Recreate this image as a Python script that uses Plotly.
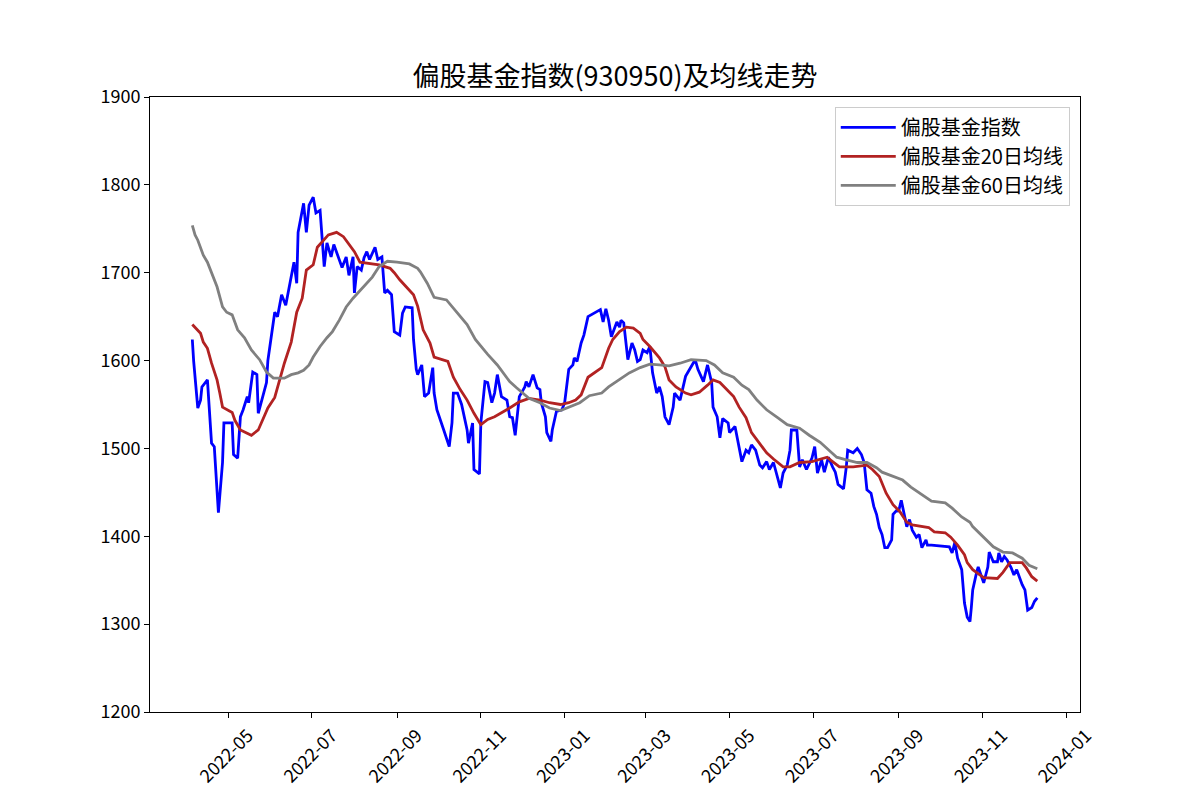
import plotly.graph_objects as go

idx_dates = ["2022-04-05","2022-04-06","2022-04-09","2022-04-11","2022-04-12","2022-04-16","2022-04-19","2022-04-21","2022-04-24","2022-04-27","2022-04-28",
"2022-05-04","2022-05-05","2022-05-08","2022-05-10","2022-05-12","2022-05-15","2022-05-16","2022-05-19","2022-05-22","2022-05-23","2022-05-29","2022-05-30",
"2022-06-04","2022-06-06","2022-06-09","2022-06-12","2022-06-16","2022-06-18","2022-06-20","2022-06-21","2022-06-25","2022-06-27","2022-06-29",
"2022-07-02","2022-07-04","2022-07-07","2022-07-10","2022-07-12","2022-07-15","2022-07-17","2022-07-23","2022-07-26","2022-07-28","2022-07-31",
"2022-08-01","2022-08-03","2022-08-06","2022-08-08","2022-08-10","2022-08-12","2022-08-16","2022-08-18","2022-08-21","2022-08-23","2022-08-25","2022-08-28","2022-08-30",
"2022-09-03","2022-09-05","2022-09-07","2022-09-12","2022-09-13","2022-09-15","2022-09-16","2022-09-19","2022-09-21","2022-09-24","2022-09-27","2022-09-28","2022-09-30",
"2022-10-05","2022-10-09","2022-10-11","2022-10-12","2022-10-15","2022-10-18","2022-10-22","2022-10-23","2022-10-26","2022-10-27","2022-10-31",
"2022-11-01","2022-11-04","2022-11-06","2022-11-09","2022-11-11","2022-11-13","2022-11-16","2022-11-20","2022-11-22","2022-11-24","2022-11-26","2022-11-29",
"2022-12-03","2022-12-04","2022-12-06","2022-12-09","2022-12-12","2022-12-14","2022-12-15","2022-12-18","2022-12-19","2022-12-22","2022-12-23","2022-12-26","2022-12-30",
"2023-01-01","2023-01-03","2023-01-04","2023-01-07","2023-01-08","2023-01-10","2023-01-13","2023-01-15","2023-01-18","2023-01-27","2023-01-29","2023-01-31",
"2023-02-02","2023-02-04","2023-02-08","2023-02-10","2023-02-11","2023-02-13","2023-02-16","2023-02-19","2023-02-21","2023-02-23","2023-02-25","2023-02-27",
"2023-03-02","2023-03-04","2023-03-06","2023-03-09","2023-03-11","2023-03-13","2023-03-15","2023-03-18","2023-03-21","2023-03-22","2023-03-26","2023-03-30",
"2023-04-02","2023-04-06","2023-04-08","2023-04-12","2023-04-15","2023-04-18","2023-04-19","2023-04-22","2023-04-24","2023-04-26","2023-04-30",
"2023-05-01","2023-05-05","2023-05-08","2023-05-10","2023-05-13","2023-05-15","2023-05-17","2023-05-20","2023-05-23","2023-05-25","2023-05-28","2023-05-30",
"2023-06-02","2023-06-05","2023-06-07","2023-06-09","2023-06-12","2023-06-14","2023-06-15","2023-06-19","2023-06-21","2023-06-23","2023-06-26","2023-06-30",
"2023-07-02","2023-07-04","2023-07-07","2023-07-09","2023-07-12","2023-07-15","2023-07-17","2023-07-19","2023-07-23","2023-07-25","2023-07-26","2023-07-30",
"2023-08-02","2023-08-05","2023-08-07","2023-08-09","2023-08-12","2023-08-14","2023-08-16","2023-08-18","2023-08-20","2023-08-22","2023-08-24","2023-08-27","2023-08-28","2023-08-31",
"2023-09-01","2023-09-03","2023-09-05","2023-09-07","2023-09-09","2023-09-11","2023-09-14","2023-09-16","2023-09-18","2023-09-21","2023-09-22","2023-09-25",
"2023-10-08","2023-10-10","2023-10-12","2023-10-14","2023-10-17","2023-10-19","2023-10-21","2023-10-23","2023-10-24","2023-10-25","2023-10-28","2023-10-29","2023-10-31",
"2023-11-02","2023-11-05","2023-11-06","2023-11-09","2023-11-12","2023-11-13","2023-11-15","2023-11-17","2023-11-19","2023-11-22","2023-11-24","2023-11-26","2023-11-28","2023-11-30",
"2023-12-02","2023-12-04","2023-12-07","2023-12-09","2023-12-11"]
idx_values = [1624,1599,1546,1555,1570,1578,1506,1502,1427,1484,1529,
1529,1493,1489,1536,1544,1559,1552,1587,1584,1540,1575,1600,
1655,1650,1675,1663,1695,1712,1688,1746,1779,1746,1777,
1786,1768,1771,1707,1734,1718,1732,1706,1718,1697,1718,
1677,1707,1703,1717,1724,1715,1729,1715,1718,1677,1680,1675,1633,
1629,1654,1661,1660,1624,1590,1584,1595,1559,1563,1592,1563,1544,
1521,1502,1529,1563,1563,1550,1521,1506,1529,1476,1471,
1529,1576,1575,1552,1563,1584,1559,1555,1536,1535,1515,1559,
1570,1576,1570,1584,1569,1567,1552,1536,1518,1508,1521,1542,1544,
1552,1575,1590,1595,1603,1599,1620,1629,1650,1658,1644,1659,
1646,1627,1644,1638,1646,1643,1601,1620,1612,1599,1601,1612,
1609,1616,1586,1563,1570,1559,1536,1527,1547,1563,1555,1582,
1590,1601,1590,1576,1595,1575,1547,1536,1512,1534,1529,
1518,1525,1500,1485,1498,1495,1504,1498,1481,1478,1485,1476,
1484,1468,1455,1472,1481,1498,1521,1521,1479,1487,1476,1489,
1502,1472,1487,1473,1490,1479,1473,1459,1454,1479,1498,1495,
1500,1493,1484,1453,1449,1434,1425,1410,1402,1387,1387,1396,1425,1430,
1428,1441,1425,1411,1419,1407,1399,1402,1387,1396,1390,1390,
1388,1381,1393,1375,1362,1324,1308,1303,1319,1339,1360,1365,1356,
1347,1365,1382,1371,1371,1381,1371,1377,1373,1364,1356,1362,1353,1345,
1339,1316,1319,1326,1330]

ma20_dates = ["2022-04-05","2022-04-11","2022-04-13","2022-04-16","2022-04-19","2022-04-23","2022-04-25","2022-04-27",
"2022-05-04","2022-05-06","2022-05-10","2022-05-18","2022-05-23","2022-05-27","2022-05-30",
"2022-06-04","2022-06-08","2022-06-11","2022-06-16","2022-06-20","2022-06-24","2022-06-27",
"2022-07-02","2022-07-05","2022-07-13","2022-07-19","2022-07-24","2022-07-28",
"2022-08-01","2022-08-05","2022-08-10","2022-08-19","2022-08-27","2022-08-30",
"2022-09-03","2022-09-08","2022-09-13","2022-09-16","2022-09-20","2022-09-25","2022-09-28",
"2022-10-08","2022-10-12","2022-10-17","2022-10-22","2022-10-27",
"2022-11-01","2022-11-06","2022-11-11","2022-11-22","2022-11-29",
"2022-12-06","2022-12-14","2022-12-21","2022-12-29",
"2023-01-04","2023-01-09","2023-01-13","2023-01-18","2023-01-28",
"2023-02-02","2023-02-05","2023-02-10","2023-02-15","2023-02-20","2023-02-25","2023-02-27",
"2023-03-04","2023-03-11","2023-03-15","2023-03-18","2023-03-23","2023-03-30",
"2023-04-03","2023-04-09","2023-04-15","2023-04-19","2023-04-24","2023-04-29",
"2023-05-04","2023-05-08","2023-05-13","2023-05-17","2023-05-23","2023-05-28",
"2023-06-02","2023-06-09","2023-06-14","2023-06-21","2023-06-30",
"2023-07-11","2023-07-15","2023-07-20","2023-07-30",
"2023-08-04","2023-08-09","2023-08-13","2023-08-18","2023-08-23","2023-08-28",
"2023-09-02","2023-09-07","2023-09-11","2023-09-18","2023-09-23","2023-09-27",
"2023-10-05","2023-10-09","2023-10-14","2023-10-19","2023-10-21","2023-10-25",
"2023-11-02","2023-11-12","2023-11-16","2023-11-21","2023-11-30",
"2023-12-03","2023-12-07","2023-12-11"]
ma20_values = [1641,1631,1621,1614,1597,1578,1563,1547,
1541,1532,1521,1515,1521,1536,1546,
1558,1581,1597,1621,1655,1671,1703,
1709,1729,1743,1746,1741,1732,
1724,1712,1711,1709,1705,1700,
1692,1683,1675,1662,1635,1620,1604,
1599,1581,1567,1555,1540,
1527,1533,1536,1546,1553,
1557,1555,1552,1550,
1552,1555,1561,1581,1592,
1614,1624,1633,1638,1637,1631,1624,
1616,1603,1593,1578,1570,1563,
1561,1564,1572,1578,1575,1567,
1559,1547,1535,1518,1506,1495,
1488,1479,1479,1484,1485,
1490,1485,1479,1479,
1480,1481,1476,1468,1449,1436,
1428,1416,1413,1411,1410,1405,
1404,1399,1390,1379,1370,1362,
1353,1352,1359,1370,1370,
1364,1354,1349]

ma60_dates = ["2022-04-05","2022-04-07","2022-04-09","2022-04-13","2022-04-16","2022-04-19","2022-04-23","2022-04-27","2022-04-30",
"2022-05-04","2022-05-08","2022-05-13","2022-05-18","2022-05-24","2022-05-29",
"2022-06-03","2022-06-11","2022-06-16","2022-06-21","2022-06-25","2022-06-29",
"2022-07-02","2022-07-07","2022-07-12","2022-07-16","2022-07-21","2022-07-26","2022-07-31",
"2022-08-05","2022-08-10","2022-08-14","2022-08-19","2022-08-25",
"2022-09-01","2022-09-10","2022-09-16","2022-09-18","2022-09-23","2022-09-28",
"2022-10-07","2022-10-12","2022-10-17","2022-10-22","2022-10-28",
"2022-11-02","2022-11-06","2022-11-13","2022-11-17","2022-11-22","2022-11-27",
"2022-12-03","2022-12-06","2022-12-14","2022-12-21","2022-12-29",
"2023-01-04","2023-01-12","2023-01-19","2023-01-28",
"2023-02-02","2023-02-10","2023-02-17","2023-02-25",
"2023-03-04","2023-03-11","2023-03-18","2023-03-26",
"2023-04-03","2023-04-14","2023-04-20","2023-04-26",
"2023-05-04","2023-05-10","2023-05-15","2023-05-21","2023-05-28",
"2023-06-05","2023-06-12","2023-06-21","2023-06-28",
"2023-07-06","2023-07-12","2023-07-18","2023-07-25",
"2023-08-02","2023-08-09","2023-08-16","2023-08-20","2023-08-28",
"2023-09-04","2023-09-10","2023-09-16","2023-09-25",
"2023-10-05","2023-10-10","2023-10-17","2023-10-23","2023-10-25",
"2023-11-02","2023-11-09","2023-11-16","2023-11-23","2023-11-30",
"2023-12-05","2023-12-11"]
ma60_values = [1754,1743,1737,1720,1712,1700,1684,1661,1655,
1652,1635,1626,1612,1601,1587,
1580,1580,1584,1586,1589,1595,
1604,1616,1626,1633,1646,1661,1671,
1680,1689,1695,1707,1713,
1712,1710,1705,1701,1688,1672,
1669,1660,1650,1641,1624,
1614,1607,1595,1586,1576,1569,
1561,1557,1552,1546,1543,
1547,1552,1560,1563,
1570,1578,1586,1592,
1596,1595,1594,1597,
1601,1600,1595,1586,
1581,1572,1567,1555,1544,
1535,1527,1523,1515,
1507,1498,1490,1487,
1484,1484,1478,1473,1468,
1464,1456,1450,1440,
1438,1432,1422,1416,1411,
1399,1388,1382,1381,1375,
1367,1363]

title = "偏股基金指数(930950)及均线走势"
names = ["偏股基金指数", "偏股基金20日均线", "偏股基金60日均线"]
colors = ["#0000ff", "#b22222", "#808080"]

FONT = "Noto Sans CJK SC, DejaVu Sans, sans-serif"

fig = go.Figure()
for xs, ys, nm, c in [(idx_dates, idx_values, names[0], colors[0]),
                      (ma20_dates, ma20_values, names[1], colors[1]),
                      (ma60_dates, ma60_values, names[2], colors[2])]:
    fig.add_trace(go.Scatter(x=xs, y=ys, mode="lines", name=nm,
                             line=dict(color=c, width=2.8)))

fig.update_layout(
    width=1200, height=800,
    paper_bgcolor="white", plot_bgcolor="white",
    margin=dict(l=142, r=128, t=89, b=96),
    font=dict(family=FONT, size=18, color="black"),
    title=dict(text=title, x=0.5, xref="paper", xanchor="center",
               y=1 - 69 / 800, yref="container", yanchor="middle",
               font=dict(size=27, family=FONT, color="black")),
    legend=dict(x=0.989, y=0.984, xanchor="right", yanchor="top",
                bgcolor="rgba(255,255,255,0.8)", bordercolor="#cccccc", borderwidth=1,
                font=dict(size=20, family=FONT), itemwidth=55,
                tracegroupgap=0),
    showlegend=True,
)
fig.update_xaxes(
    type="date", range=["2022-03-05 05:00", "2024-01-11 02:00"],
    tick0="2022-05-01", dtick="M2", tickformat="%Y-%m", tickangle=-45,
    ticklabelshift=20,
    showgrid=False, zeroline=False, showline=True, linecolor="black", linewidth=1,
    mirror=True, ticks="outside", ticklen=5, tickcolor="black",
    tickfont=dict(size=18, family=FONT),
)
fig.update_yaxes(
    range=[1200, 1900], dtick=100, tick0=1200,
    showgrid=False, zeroline=False, showline=True, linecolor="black", linewidth=1,
    mirror=True, ticks="outside", ticklen=5, tickcolor="black",
    tickfont=dict(size=18, family=FONT),
)

fig.write_html("out.html")
